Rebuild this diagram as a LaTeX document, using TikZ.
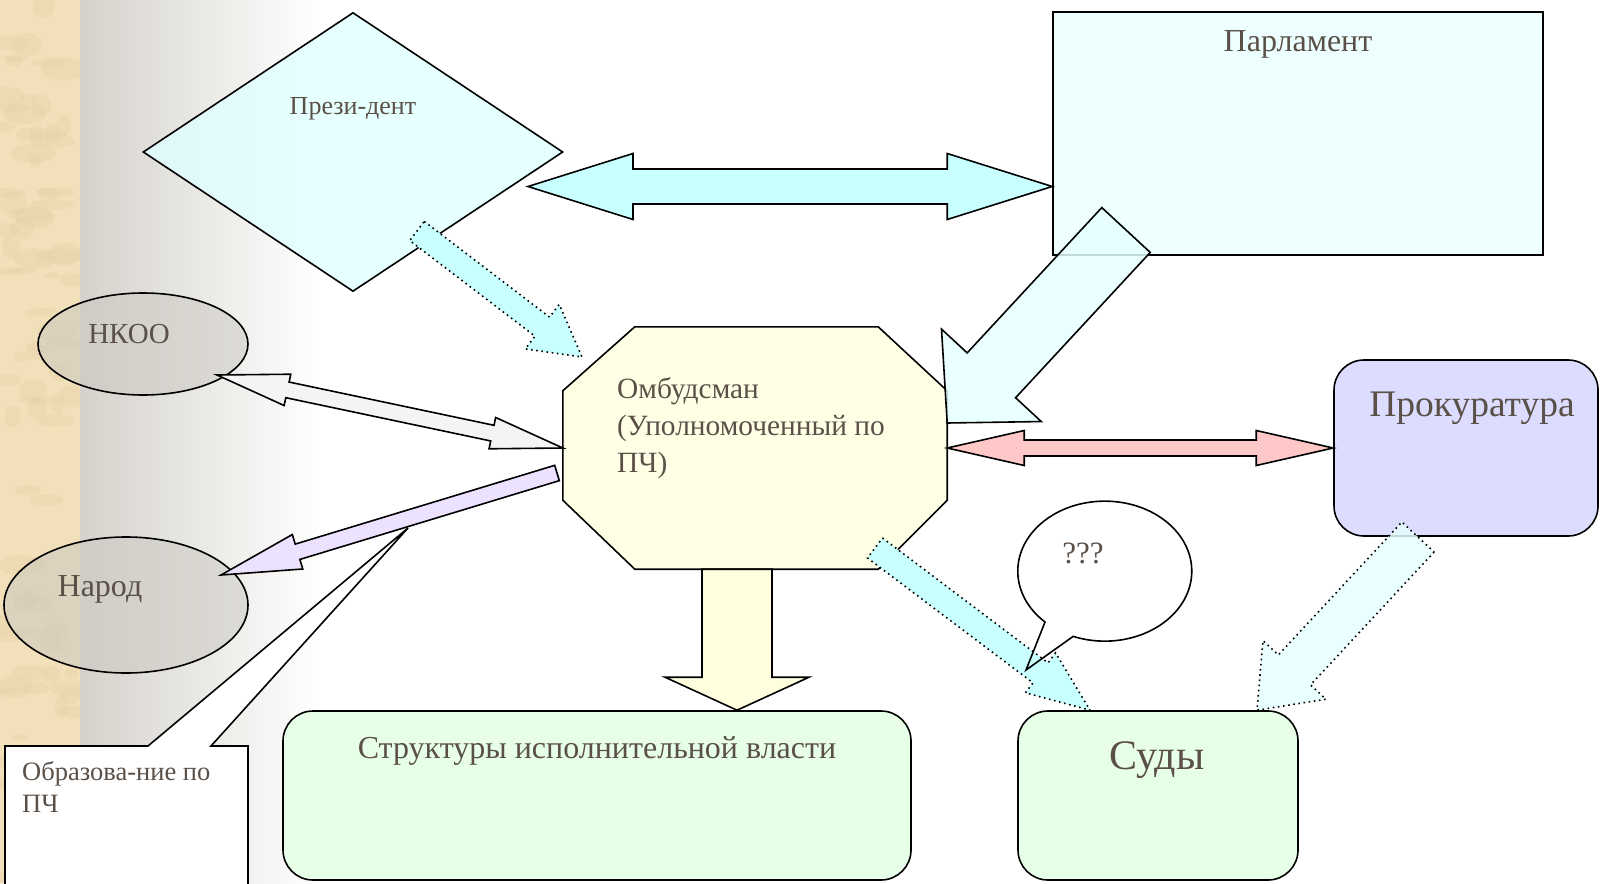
\documentclass[tikz,border=0pt]{standalone}
\usepackage{fontspec}
\setmainfont{Liberation Serif}
\usetikzlibrary{shapes.geometric, calc}

\definecolor{txtGray}{RGB}{90,80,72}
\definecolor{parchment}{RGB}{241,224,186}
\definecolor{parchDark}{RGB}{228,207,164}
\definecolor{bgGray}{RGB}{213,210,203}
\definecolor{presFill}{RGB}{224,255,255}
\definecolor{parlFill}{RGB}{238,255,255}
\definecolor{cyanArrow}{RGB}{200,255,255}
\definecolor{bigArrow}{RGB}{230,255,255}
\definecolor{ombFill}{RGB}{255,255,230}
\definecolor{downArrow}{RGB}{255,255,224}
\definecolor{greenFill}{RGB}{230,255,230}
\definecolor{prokFill}{RGB}{220,220,255}
\definecolor{redArrow}{RGB}{255,200,200}
\definecolor{grayArrow}{RGB}{244,244,244}
\definecolor{lavArrow}{RGB}{236,226,255}
\definecolor{ellGray}{RGB}{204,201,194}

% block arrow: style, tail, tip, shaft half width, head half width, head length
\newcommand{\arrowOne}[6]{%
  \coordinate (ar-h) at ($(#3)!#6pt!(#2)$);
  \path[#1] ($(#2)!#4pt!90:(#3)$) -- ($(ar-h)!#4pt!90:(#3)$) -- ($(ar-h)!#5pt!90:(#3)$) -- (#3)
    -- ($(ar-h)!#5pt!-90:(#3)$) -- ($(ar-h)!#4pt!-90:(#3)$) -- ($(#2)!#4pt!-90:(#3)$) -- cycle;
}
% double block arrow: style, end a, end b, shaft half width, head half width, head length
\newcommand{\arrowTwo}[6]{%
  \coordinate (ar-a) at ($(#2)!#6pt!(#3)$);
  \coordinate (ar-b) at ($(#3)!#6pt!(#2)$);
  \path[#1] (#2) -- ($(ar-a)!#5pt!90:(#3)$) -- ($(ar-a)!#4pt!90:(#3)$) -- ($(ar-b)!#4pt!-90:(#2)$)
    -- ($(ar-b)!#5pt!-90:(#2)$) -- (#3) -- ($(ar-b)!#5pt!90:(#2)$) -- ($(ar-b)!#4pt!90:(#2)$)
    -- ($(ar-a)!#4pt!-90:(#3)$) -- ($(ar-a)!#5pt!-90:(#3)$) -- cycle;
}
% speech bubble outline
\newcommand{\bubble}[1]{%
  \path[#1] (bub-tip) -- (1045,622) arc[start angle=133.4, end angle=471.3, x radius=87, y radius=70] -- cycle;
}

\begin{document}
\begin{tikzpicture}[x=1pt, y=-1pt,
    outline/.style={draw=black, line width=1.6pt},
    dotline/.style={draw=black, line width=1.6pt, dash pattern=on 1.6pt off 3.6pt},
    box/.style={outline, rounded corners=30pt, inner sep=0pt},
    lbl/.style={text=txtGray, inner sep=0pt}]

  \useasboundingbox (0,0) rectangle (1600,883);
  \clip (0,0) rectangle (1600,883);

  \fill[parchment] (0,0) rectangle (80,883);
  \pgfmathsetseed{7}
  \foreach \i in {1,...,90}{
    \fill[parchDark, opacity=0.3] (rnd*80, rnd*883) ellipse[x radius=6+rnd*18, y radius=3+rnd*9];
  }
  \shade[left color=bgGray, right color=white] (80,0) rectangle (320,883);

  % President and parliament
  \node[diamond, outline, fill=presFill, fill opacity=0.8, minimum width=420pt, minimum height=279pt, inner sep=0pt] (pres) at (353,152) {};
  \node[lbl, font=\fontsize{26}{30}\selectfont] (pres-t) at (353,109) {Прези-дент};

  \node[rectangle, outline, fill=parlFill, minimum width=490pt, minimum height=243pt, inner sep=0pt] (parl) at (1298,133.5) {};
  \node[lbl, font=\fontsize{32}{36}\selectfont] (parl-t) at (1298,44) {Парламент};

  \coordinate (pp-a) at (528,186.5);
  \coordinate (pp-b) at (parl.west |- pp-a);
  \arrowTwo{outline, fill=cyanArrow}{pp-a}{pp-b}{17.5}{33}{105}

  % ombudsman
  \node[inner sep=0pt, minimum width=384pt, minimum height=242pt] (omb) at (755,448) {};
  \draw[outline, fill=ombFill] ($(omb.north west)+(72,0)$) -- ($(omb.north east)+(-69,0)$) -- ($(omb.north east)+(0,64)$)
    -- ($(omb.south east)+(0,-69)$) -- ($(omb.south east)+(-69,0)$) -- ($(omb.south west)+(72,0)$)
    -- ($(omb.south west)+(0,-69)$) -- ($(omb.north west)+(0,64)$) -- cycle;
  \node[lbl, align=left, anchor=north west, font=\fontsize{29.4}{37}\selectfont] (omb-t) at (617,377) {Омбудсман\\(Уполномоченный по\\ПЧ)};

  % lower boxes
  \node[box, fill=greenFill, minimum width=628pt, minimum height=169pt] (exec) at (597,795.5) {};
  \node[lbl, font=\fontsize{32}{36}\selectfont] (exec-t) at (597,751) {Структуры исполнительной власти};
  \node[box, fill=greenFill, minimum width=280pt, minimum height=169pt] (court) at (1158,795.5) {};
  \node[lbl, font=\fontsize{42}{46}\selectfont] (court-t) at (1157,760) {Суды};
  \node[box, fill=prokFill, minimum width=264pt, minimum height=176pt] (prok) at (1466,448) {};
  \node[lbl, font=\fontsize{37.5}{42}\selectfont] (prok-t) at (1472,408) {Прокуратура};

  \coordinate (down-a) at ($(omb.south)+(-18,0)$);
  \coordinate (down-b) at (down-a |- exec.north);
  \arrowOne{outline, fill=downArrow}{down-a}{down-b}{35}{72}{33}

  \arrowTwo{outline, fill=redArrow}{omb.east}{prok.west}{8}{17.5}{77}

  \coordinate (po-a) at (1126,230);
  \coordinate (po-b) at ($(omb.east)+(0,-25)$);
  \arrowOne{outline, fill=bigArrow, fill opacity=0.85}{po-a}{po-b}{33}{68}{65}

  % left side
  \node[ellipse, outline, fill=ellGray, fill opacity=0.55, minimum width=210pt, minimum height=102pt, inner sep=0pt] (nkoo) at (143,344) {};
  \node[lbl, font=\fontsize{29}{33}\selectfont] (nkoo-t) at (129,334) {НКОО};
  \node[ellipse, outline, fill=ellGray, fill opacity=0.55, minimum width=244pt, minimum height=136pt, inner sep=0pt] (narod) at (126,605) {};
  \node[lbl, font=\fontsize{32}{36}\selectfont] (narod-t) at (100,589) {Народ};

  \coordinate (nk-a) at (217,375);
  \arrowTwo{outline, fill=grayArrow}{nk-a}{omb.west}{8}{16}{72}

  \coordinate (nr-a) at (557,473);
  \coordinate (nr-b) at (221,575);
  \arrowOne{outline, fill=lavArrow}{nr-a}{nr-b}{8}{18}{80}

  \coordinate (call-tip) at (408,528);
  \draw[outline, fill=white] (5,900) -- (5,746) -- (148,746) -- (call-tip) -- (211,746) -- (248,746) -- (248,900);
  \node[lbl, align=left, anchor=north west, font=\fontsize{26.5}{32}\selectfont] (edu) at (22,761) {Образова-ние по\\ПЧ};

  % speech bubble
  \coordinate (bub-tip) at (1026,670);
  \bubble{fill=white}
  \node[lbl, font=\fontsize{31}{35}\selectfont] (qq) at (1083,553) {???};

  % dotted arrows
  \coordinate (pd-a) at (417,231);
  \coordinate (pd-b) at (582,357);
  \arrowOne{dotline, fill=cyanArrow}{pd-a}{pd-b}{12}{28}{50}

  \coordinate (oc-a) at (875,548);
  \coordinate (oc-b) at ($(court.north)+(-68,0)$);
  \arrowOne{dotline, fill=cyanArrow}{oc-a}{oc-b}{12.5}{25}{62}
  \bubble{outline}

  \coordinate (pc-a) at (1418,537);
  \coordinate (pc-b) at ($(court.north)+(99,0)$);
  \arrowOne{dotline, fill=bigArrow, fill opacity=0.85}{pc-a}{pc-b}{22}{43}{55}

\end{tikzpicture}
\end{document}
